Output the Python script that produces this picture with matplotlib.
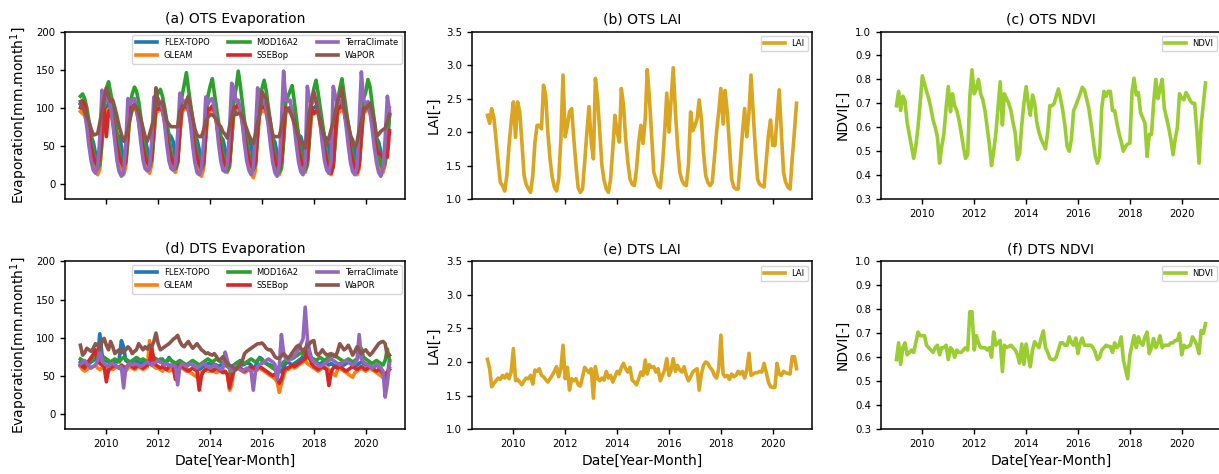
import matplotlib
matplotlib.use("Agg")
import matplotlib.pyplot as plt
import matplotlib.dates as mdates
import pandas as pd

# monthly dates 2009-01 .. 2020-12
dates = pd.date_range("2009-01-01", periods=144, freq="MS")

# ---- OTS evaporation [mm/month] ----
ots_flex = [105, 110, 100, 90, 75, 62, 55, 40, 30, 35, 65, 95,
            100, 105, 100, 90, 78, 65, 62, 50, 30, 32, 62, 98,
            100, 105, 102, 92, 78, 65, 60, 45, 28, 30, 65, 98,
            98, 102, 100, 90, 75, 65, 62, 55, 30, 32, 68, 98,
            100, 105, 100, 90, 75, 62, 58, 45, 28, 30, 62, 95,
            98, 102, 98, 88, 75, 62, 58, 45, 25, 28, 60, 95,
            100, 105, 100, 88, 75, 62, 60, 50, 30, 32, 65, 98,
            100, 102, 98, 88, 72, 60, 55, 40, 22, 25, 62, 98,
            98, 100, 98, 88, 75, 64, 62, 52, 30, 32, 65, 98,
            100, 102, 98, 88, 75, 62, 60, 48, 25, 28, 62, 95,
            100, 105, 98, 88, 75, 62, 58, 45, 25, 30, 62, 98,
            100, 102, 98, 88, 72, 60, 55, 42, 25, 30, 50, 90]
ots_gleam = [95, 92, 90, 80, 62, 45, 30, 18, 12, 20, 55, 90,
             95, 98, 95, 82, 62, 44, 30, 18, 12, 22, 58, 92,
             96, 100, 95, 82, 64, 46, 30, 20, 14, 25, 62, 95,
             95, 98, 95, 82, 62, 44, 30, 18, 15, 28, 65, 95,
             98, 100, 96, 82, 62, 44, 28, 16, 10, 20, 60, 92,
             95, 98, 95, 80, 60, 42, 28, 16, 15, 25, 62, 92,
             95, 98, 94, 80, 60, 40, 26, 15, 8, 18, 60, 92,
             95, 96, 92, 78, 58, 40, 26, 15, 12, 22, 62, 92,
             95, 98, 95, 80, 60, 42, 28, 16, 15, 25, 62, 90,
             95, 96, 92, 78, 58, 40, 26, 14, 12, 22, 62, 92,
             95, 98, 94, 80, 60, 42, 28, 16, 12, 20, 60, 92,
             95, 98, 94, 80, 60, 42, 28, 18, 15, 25, 62, 100]
ots_mod16 = [115, 118, 112, 100, 82, 62, 42, 28, 20, 25, 55, 100,
             125, 134, 120, 105, 85, 65, 45, 30, 22, 28, 60, 105,
             118, 127, 122, 108, 88, 66, 46, 30, 22, 30, 65, 110,
             120, 124, 115, 100, 82, 62, 42, 28, 20, 28, 70, 115,
             130, 146, 125, 105, 85, 62, 42, 26, 18, 25, 65, 115,
             128, 138, 120, 100, 80, 60, 40, 25, 17, 22, 60, 110,
             125, 148, 130, 105, 82, 60, 40, 25, 18, 25, 65, 112,
             125, 136, 122, 100, 80, 58, 38, 22, 15, 20, 55, 108,
             115, 122, 129, 108, 85, 62, 42, 25, 18, 25, 60, 110,
             125, 136, 120, 100, 80, 58, 38, 22, 17, 22, 60, 108,
             125, 138, 118, 98, 78, 58, 38, 24, 18, 25, 62, 112,
             120, 137, 128, 105, 82, 60, 40, 25, 20, 28, 65, 90]
ots_ssebop = [100, 108, 105, 88, 65, 48, 35, 28, 25, 35, 70, 98,
              62, 95, 98, 85, 65, 48, 35, 28, 22, 30, 72, 100,
              98, 102, 98, 85, 65, 48, 35, 28, 25, 35, 75, 100,
              98, 100, 96, 84, 64, 46, 34, 28, 22, 30, 72, 100,
              100, 105, 98, 84, 64, 46, 34, 26, 20, 28, 70, 98,
              98, 102, 96, 82, 62, 45, 32, 25, 22, 30, 72, 100,
              100, 104, 98, 84, 62, 45, 32, 25, 20, 28, 70, 98,
              100, 102, 96, 82, 62, 44, 32, 24, 20, 30, 72, 100,
              98, 100, 96, 82, 62, 45, 32, 25, 22, 32, 75, 100,
              92, 95, 98, 84, 62, 44, 30, 22, 14, 25, 70, 98,
              100, 104, 98, 82, 60, 42, 30, 22, 15, 25, 68, 98,
              100, 102, 96, 82, 62, 45, 40, 38, 35, 40, 35, 70]
ots_terra = [105, 100, 95, 75, 50, 30, 18, 14, 22, 60, 123, 110,
             108, 115, 100, 80, 55, 30, 16, 10, 15, 50, 112, 105,
             110, 112, 100, 80, 55, 32, 20, 17, 20, 55, 114, 108,
             112, 105, 98, 78, 52, 30, 20, 18, 25, 65, 119, 110,
             108, 110, 100, 78, 50, 28, 15, 12, 18, 55, 114, 105,
             110, 112, 100, 80, 52, 30, 18, 16, 25, 70, 132, 126,
             108, 110, 98, 78, 52, 30, 18, 12, 20, 65, 126, 110,
             105, 112, 98, 76, 50, 28, 15, 10, 25, 80, 148, 110,
             108, 110, 95, 75, 50, 28, 16, 12, 25, 128, 110, 105,
             110, 112, 100, 78, 52, 30, 18, 14, 30, 128, 115, 105,
             108, 110, 98, 75, 50, 28, 16, 12, 22, 80, 147, 110,
             105, 108, 95, 72, 48, 28, 15, 10, 20, 60, 115, 95]
ots_wapor = [108, 100, 95, 88, 82, 72, 64, 65, 66, 80, 95, 112,
             126, 115, 108, 110, 100, 88, 75, 65, 56, 62, 71, 85,
             99, 104, 100, 95, 85, 73, 62, 56, 65, 75, 84, 126,
             104, 106, 108, 95, 82, 78, 75, 75, 75, 75, 95, 102,
             102, 108, 115, 100, 86, 72, 64, 62, 62, 70, 82, 88,
             90, 91, 88, 84, 78, 75, 68, 65, 60, 75, 88, 99,
             91, 92, 93, 88, 80, 72, 64, 58, 53, 65, 80, 91,
             121, 115, 112, 95, 80, 64, 62, 62, 62, 75, 88, 95,
             99, 95, 88, 80, 70, 60, 55, 50, 47, 70, 95, 110,
             121, 108, 95, 80, 70, 60, 51, 60, 71, 82, 95, 110,
             115, 126, 100, 91, 78, 64, 55, 47, 55, 70, 82, 95,
             99, 102, 106, 95, 82, 62, 65, 69, 71, 73, 82, 91]

# ---- DTS evaporation [mm/month] ----
dts_flex = [68, 66, 62, 64, 66, 68, 70, 72, 75, 105, 78, 70,
            70, 68, 66, 68, 70, 68, 72, 96, 88, 70, 68, 66,
            68, 66, 70, 68, 66, 68, 67, 70, 68, 66, 70, 72,
            70, 68, 72, 66, 68, 74, 70, 68, 66, 64, 68, 66,
            64, 62, 65, 66, 64, 62, 60, 58, 60, 62, 64, 66,
            66, 64, 65, 64, 62, 64, 66, 65, 63, 60, 62, 64,
            66, 68, 66, 64, 65, 67, 66, 64, 60, 62, 70, 74,
            72, 68, 66, 65, 64, 62, 60, 58, 56, 55, 62, 66,
            68, 66, 64, 66, 68, 70, 72, 75, 80, 95, 82, 72,
            70, 68, 66, 65, 68, 70, 66, 64, 66, 64, 62, 64,
            66, 65, 64, 66, 68, 66, 64, 62, 64, 66, 68, 66,
            64, 65, 62, 60, 62, 64, 62, 55, 48, 42, 50, 70]
dts_gleam = [62, 58, 56, 58, 60, 62, 62, 64, 60, 58, 60, 62,
             58, 56, 60, 58, 60, 62, 60, 58, 58, 56, 60, 62,
             60, 58, 60, 62, 60, 58, 60, 62, 96, 64, 62, 60,
             60, 58, 56, 60, 58, 56, 58, 56, 58, 60, 62, 60,
             58, 56, 58, 54, 52, 50, 48, 52, 54, 56, 58, 56,
             56, 58, 56, 54, 56, 58, 56, 54, 52, 31, 38, 55,
             58, 60, 58, 56, 54, 56, 58, 60, 58, 56, 58, 60,
             58, 56, 54, 52, 50, 48, 46, 42, 28, 40, 50, 58,
             58, 60, 62, 60, 62, 64, 66, 68, 70, 66, 64, 62,
             60, 58, 56, 58, 60, 62, 60, 58, 56, 52, 50, 58,
             60, 58, 56, 54, 52, 50, 48, 54, 56, 58, 60, 58,
             56, 58, 60, 58, 56, 54, 52, 50, 48, 52, 55, 60]
dts_mod16 = [72, 70, 66, 64, 68, 70, 72, 74, 72, 70, 72, 74,
             72, 70, 68, 70, 72, 70, 68, 72, 74, 72, 70, 68,
             70, 72, 74, 72, 70, 72, 70, 68, 70, 72, 74, 72,
             70, 72, 70, 68, 70, 72, 70, 68, 66, 68, 70, 68,
             66, 64, 66, 68, 70, 68, 66, 64, 66, 68, 70, 72,
             70, 68, 70, 72, 70, 68, 66, 64, 62, 60, 45, 62,
             66, 68, 70, 68, 66, 68, 70, 72, 70, 68, 70, 72,
             70, 68, 66, 64, 62, 60, 58, 60, 62, 64, 68, 70,
             70, 72, 72, 74, 76, 78, 80, 78, 76, 74, 72, 72,
             72, 70, 72, 74, 72, 70, 72, 74, 76, 78, 76, 74,
             72, 70, 68, 70, 72, 70, 68, 70, 72, 76, 86, 74,
             72, 70, 68, 66, 68, 70, 68, 66, 64, 70, 85, 70]
dts_ssebop = [64, 62, 60, 66, 70, 74, 78, 84, 70, 66, 64, 62,
              42, 58, 60, 62, 64, 62, 60, 64, 62, 60, 64, 66,
              62, 60, 62, 64, 62, 60, 62, 64, 66, 88, 70, 64,
              62, 60, 62, 60, 58, 62, 64, 60, 45, 62, 64, 62,
              60, 58, 56, 58, 60, 58, 56, 31, 50, 56, 58, 60,
              58, 56, 58, 60, 58, 56, 54, 56, 52, 34, 48, 58,
              60, 62, 60, 58, 56, 58, 60, 62, 60, 58, 60, 62,
              60, 58, 56, 54, 52, 50, 52, 48, 40, 45, 56, 60,
              60, 62, 64, 62, 64, 66, 68, 70, 72, 85, 74, 66,
              62, 60, 58, 60, 62, 60, 58, 37, 55, 60, 62, 60,
              62, 60, 58, 56, 58, 60, 62, 60, 58, 60, 62, 60,
              58, 60, 62, 60, 58, 56, 58, 60, 52, 50, 55, 58]
dts_terra = [65, 68, 70, 66, 62, 60, 62, 64, 70, 86, 70, 66,
             64, 62, 65, 66, 64, 62, 60, 62, 34, 60, 64, 66,
             64, 66, 65, 64, 62, 64, 66, 68, 66, 64, 66, 68,
             70, 68, 66, 64, 66, 64, 62, 64, 62, 38, 62, 66,
             64, 62, 64, 66, 64, 62, 60, 62, 64, 66, 64, 62,
             60, 62, 64, 62, 60, 58, 60, 81, 70, 60, 56, 62,
             62, 60, 58, 56, 58, 60, 58, 56, 31, 55, 62, 65,
             66, 68, 70, 72, 70, 68, 65, 45, 62, 104, 80, 72,
             70, 72, 74, 76, 80, 85, 92, 98, 140, 100, 78, 72,
             68, 66, 64, 62, 64, 66, 68, 70, 72, 70, 68, 66,
             64, 66, 68, 70, 68, 66, 64, 66, 70, 104, 72, 68,
             66, 64, 62, 60, 62, 64, 62, 60, 56, 22, 40, 66]
dts_wapor = [90, 77, 80, 86, 84, 82, 86, 92, 90, 84, 95, 99,
             90, 84, 95, 88, 79, 82, 84, 80, 82, 84, 88, 85,
             79, 82, 84, 92, 88, 84, 88, 85, 90, 88, 95, 106,
             92, 84, 86, 88, 90, 92, 95, 98, 100, 103, 95, 90,
             88, 92, 95, 90, 86, 89, 92, 88, 84, 82, 79, 80,
             78, 77, 79, 75, 70, 72, 75, 70, 66, 64, 62, 60,
             58, 62, 64, 70, 79, 82, 84, 86, 88, 90, 92, 92,
             93, 90, 86, 84, 84, 80, 75, 73, 73, 76, 79, 76,
             73, 76, 80, 84, 88, 90, 86, 82, 86, 88, 92, 95,
             96, 80, 77, 80, 84, 80, 77, 78, 79, 76, 75, 82,
             92, 88, 84, 86, 90, 84, 77, 82, 88, 84, 79, 82,
             84, 80, 77, 80, 84, 88, 92, 94, 95, 92, 75, 77]

# ---- LAI [-] ----
ots_lai = [2.25, 2.13, 2.35, 2.22, 1.90, 1.55, 1.25, 1.20, 1.12, 1.35, 1.80, 2.15,
           2.45, 1.92, 2.45, 2.30, 1.85, 1.35, 1.22, 1.15, 1.10, 1.35, 1.85, 2.10,
           2.10, 2.05, 2.70, 2.55, 2.00, 1.60, 1.33, 1.18, 1.12, 1.30, 1.90, 2.85,
           1.93, 2.10, 2.30, 2.35, 1.90, 1.50, 1.17, 1.10, 1.15, 1.55, 2.00, 2.38,
           1.85, 1.60, 2.80, 2.50, 2.00, 1.50, 1.28, 1.15, 1.10, 1.30, 1.75, 2.25,
           2.00, 1.85, 2.65, 2.40, 1.90, 1.55, 1.30, 1.22, 1.20, 1.45, 1.85, 2.10,
           1.83, 2.20, 2.93, 2.50, 1.95, 1.40, 1.30, 1.20, 1.17, 1.50, 2.00, 2.58,
           2.00, 2.50, 2.96, 2.30, 1.80, 1.40, 1.28, 1.22, 1.20, 1.50, 2.30, 2.02,
           2.10, 2.20, 2.48, 2.20, 1.70, 1.35, 1.25, 1.20, 1.25, 1.60, 2.00, 2.30,
           2.65, 2.12, 2.62, 2.30, 1.80, 1.30, 1.18, 1.15, 1.15, 1.55, 2.00, 2.35,
           1.93, 2.30, 2.85, 2.30, 1.75, 1.30, 1.22, 1.20, 1.18, 1.55, 1.95, 2.18,
           1.80, 1.80, 2.20, 2.63, 2.00, 1.40, 1.25, 1.18, 1.15, 1.60, 2.00, 2.43]
dts_lai = [2.04, 1.90, 1.63, 1.68, 1.72, 1.76, 1.74, 1.80, 1.76, 1.82, 1.75, 1.85,
           2.20, 1.72, 1.74, 1.70, 1.66, 1.72, 1.76, 1.75, 1.80, 1.67, 1.88, 1.86,
           1.90, 1.80, 1.78, 1.74, 1.70, 1.75, 1.80, 1.86, 1.93, 1.78, 1.90, 2.25,
           1.75, 1.92, 1.58, 1.75, 1.72, 1.75, 1.66, 1.64, 1.78, 1.92, 1.88, 1.84,
           1.90, 1.46, 1.93, 1.75, 1.72, 1.76, 1.73, 1.86, 1.76, 1.80, 1.70, 1.78,
           1.86, 1.82, 1.92, 1.98, 1.90, 1.85, 1.92, 1.73, 1.70, 1.66, 1.75, 1.85,
           1.80, 2.03, 1.82, 1.96, 1.92, 1.93, 1.85, 1.90, 1.72, 1.80, 1.88, 2.05,
           1.80, 1.88, 2.05, 1.86, 1.95, 1.88, 1.85, 1.93, 1.80, 1.72, 1.78, 1.85,
           1.88, 1.90, 1.58, 1.82, 1.95, 2.00, 1.98, 1.92, 1.88, 1.80, 1.76, 1.90,
           2.40, 1.82, 1.78, 1.80, 1.74, 1.82, 1.78, 1.80, 1.86, 1.82, 1.86, 1.76,
           1.88, 2.13, 1.80, 1.82, 1.84, 1.84, 1.86, 1.85, 1.98, 1.85, 1.70, 1.63,
           1.62, 1.62, 1.98, 1.82, 1.80, 1.86, 1.84, 1.83, 1.82, 2.08, 2.08, 1.90]

# ---- NDVI [-] ----
ots_ndvi = [0.69, 0.75, 0.67, 0.73, 0.71, 0.62, 0.57, 0.52, 0.47, 0.52, 0.60, 0.70,
            0.815, 0.78, 0.75, 0.72, 0.68, 0.63, 0.60, 0.56, 0.45, 0.52, 0.575, 0.68,
            0.77, 0.665, 0.74, 0.69, 0.67, 0.63, 0.58, 0.52, 0.47, 0.485, 0.73, 0.84,
            0.74, 0.76, 0.80, 0.74, 0.715, 0.67, 0.60, 0.53, 0.44, 0.50, 0.575, 0.68,
            0.79, 0.61, 0.74, 0.72, 0.70, 0.67, 0.62, 0.575, 0.465, 0.49, 0.61, 0.70,
            0.77, 0.70, 0.65, 0.735, 0.70, 0.62, 0.58, 0.55, 0.53, 0.51, 0.58, 0.69,
            0.69, 0.70, 0.73, 0.76, 0.72, 0.67, 0.61, 0.52, 0.50, 0.55, 0.67, 0.69,
            0.715, 0.74, 0.767, 0.756, 0.72, 0.68, 0.62, 0.55, 0.48, 0.45, 0.48, 0.68,
            0.75, 0.73, 0.75, 0.75, 0.67, 0.67, 0.62, 0.575, 0.54, 0.50, 0.52, 0.53,
            0.534, 0.75, 0.805, 0.735, 0.745, 0.66, 0.64, 0.617, 0.478, 0.57, 0.57, 0.70,
            0.80, 0.72, 0.76, 0.80, 0.68, 0.64, 0.60, 0.55, 0.485, 0.55, 0.60, 0.74,
            0.72, 0.715, 0.745, 0.73, 0.71, 0.70, 0.70, 0.59, 0.45, 0.61, 0.70, 0.785]
dts_ndvi = [0.59, 0.66, 0.57, 0.64, 0.66, 0.61, 0.62, 0.63, 0.62, 0.66, 0.705, 0.69,
            0.69, 0.69, 0.65, 0.64, 0.63, 0.62, 0.64, 0.65, 0.61, 0.64, 0.64, 0.65,
            0.59, 0.64, 0.63, 0.60, 0.63, 0.62, 0.62, 0.63, 0.64, 0.63, 0.79, 0.79,
            0.63, 0.69, 0.66, 0.64, 0.64, 0.64, 0.63, 0.64, 0.60, 0.705, 0.65, 0.66,
            0.67, 0.54, 0.65, 0.64, 0.645, 0.65, 0.64, 0.63, 0.61, 0.575, 0.655, 0.57,
            0.655, 0.60, 0.56, 0.63, 0.665, 0.65, 0.64, 0.68, 0.71, 0.64, 0.62, 0.595,
            0.59, 0.59, 0.60, 0.63, 0.66, 0.66, 0.65, 0.65, 0.685, 0.66, 0.65, 0.68,
            0.615, 0.66, 0.68, 0.65, 0.65, 0.65, 0.65, 0.64, 0.62, 0.59, 0.60, 0.63,
            0.64, 0.65, 0.645, 0.645, 0.62, 0.66, 0.64, 0.65, 0.685, 0.59, 0.55, 0.51,
            0.61, 0.65, 0.69, 0.64, 0.685, 0.66, 0.65, 0.685, 0.705, 0.615, 0.64, 0.678,
            0.64, 0.66, 0.69, 0.64, 0.65, 0.65, 0.65, 0.66, 0.66, 0.67, 0.67, 0.70,
            0.61, 0.65, 0.64, 0.645, 0.65, 0.685, 0.67, 0.65, 0.615, 0.712, 0.70, 0.74]

products = ["FLEX-TOPO", "GLEAM", "MOD16A2", "SSEBop", "TerraClimate", "WaPOR"]
ots_evap = [ots_flex, ots_gleam, ots_mod16, ots_ssebop, ots_terra, ots_wapor]
dts_evap = [dts_flex, dts_gleam, dts_mod16, dts_ssebop, dts_terra, dts_wapor]
colors = ["#1f77b4", "#ff7f0e", "#2ca02c", "#d62728", "#9467bd", "#8c564b"]

fig = plt.figure(figsize=(12.19, 4.74), dpi=100)

lefts = [0.0533, 0.3872, 0.7227]
bottoms = [0.580, 0.0949]
w, h = 0.2789, 0.3535

axes = {}
for r in range(2):
    for c in range(3):
        axes[(r, c)] = fig.add_axes([lefts[c], bottoms[r], w, h])

lw = 2.6

def style(ax, title):
    ax.set_title(title, fontsize=10)
    ax.tick_params(labelsize=7.3, width=1, length=3.5)
    for s in ax.spines.values():
        s.set_linewidth(1.1)
    ax.xaxis.set_major_locator(mdates.YearLocator(2))
    ax.xaxis.set_major_formatter(mdates.DateFormatter("%Y"))

for r, (evap, tag) in enumerate([(ots_evap, "OTS"), (dts_evap, "DTS")]):
    ax = axes[(r, 0)]
    for name, vals, col in zip(products, evap, colors):
        ax.plot(dates, vals, color=col, lw=lw, label=name)
    ax.set_ylim(-20, 200)
    ax.set_yticks([0, 50, 100, 150, 200])
    ax.set_ylabel(r"Evaporation[mm.month$^{1}$]", fontsize=10)
    ax.legend(ncol=3, fontsize=6, loc="upper right", handlelength=2.6,
              columnspacing=2.2, borderaxespad=0.4)
    style(ax, "(%s) %s Evaporation" % ("ad"[r], tag))

for r, (vals, tag) in enumerate([(ots_lai, "OTS"), (dts_lai, "DTS")]):
    ax = axes[(r, 1)]
    ax.plot(dates, vals, color="goldenrod", lw=lw, label="LAI")
    ax.set_ylim(1.0, 3.5)
    ax.set_yticks([1.0, 1.5, 2.0, 2.5, 3.0, 3.5])
    ax.set_ylabel("LAI[-]", fontsize=10)
    ax.legend(fontsize=6, loc="upper right", handlelength=2.5)
    style(ax, "(%s) %s LAI" % ("be"[r], tag))

for r, (vals, tag) in enumerate([(ots_ndvi, "OTS"), (dts_ndvi, "DTS")]):
    ax = axes[(r, 2)]
    ax.plot(dates, vals, color="yellowgreen", lw=lw, label="NDVI")
    ax.set_ylim(0.3, 1.0)
    ax.set_yticks([0.3, 0.4, 0.5, 0.6, 0.7, 0.8, 0.9, 1.0])
    ax.set_ylabel("NDVI[-]", fontsize=10)
    ax.legend(fontsize=6, loc="upper right", handlelength=2.5)
    style(ax, "(%s) %s NDVI" % ("cf"[r], tag))

axes[(0, 0)].tick_params(labelbottom=False)
axes[(0, 1)].tick_params(labelbottom=False)
for c in range(3):
    axes[(1, c)].set_xlabel("Date[Year-Month]", fontsize=10)

fig.savefig("out.png", dpi=100)
